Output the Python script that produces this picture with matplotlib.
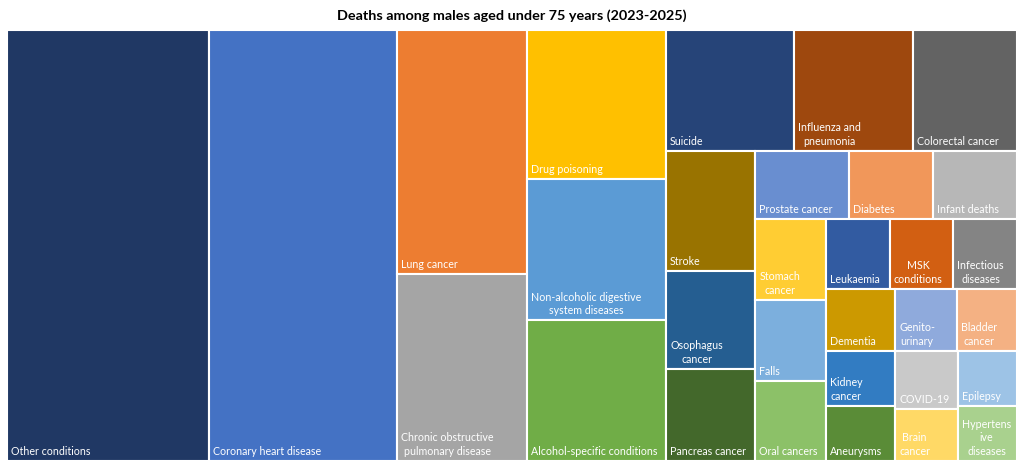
import matplotlib
matplotlib.use("Agg")
import matplotlib.pyplot as plt
from matplotlib.patches import Rectangle

# ==========================================
# Data (estimated from the reference treemap)
# ==========================================
labels = [
    "Other conditions", "Coronary heart disease", "Lung cancer",
    "Chronic obstructive\npulmonary disease", "Drug poisoning",
    "Non-alcoholic digestive\nsystem diseases", "Alcohol-specific conditions",
    "Suicide", "Influenza and\npneumonia", "Colorectal cancer",
    "Stroke", "Osophagus\ncancer", "Pancreas cancer",
    "Prostate cancer", "Diabetes", "Infant deaths",
    "Stomach\ncancer", "Falls", "Oral cancers",
    "Leukaemia", "MSK\nconditions", "Infectious\ndiseases",
    "Dementia", "Kidney\ncancer", "Aneurysms",
    "Genito-\nurinary", "Bladder\ncancer",
    "COVID-19", "Brain\ncancer", "Epilepsy", "Hypertens\nive\ndiseases",
]
deaths = [
    8710, 8100, 3170, 2430, 2070, 1965, 1955,
    1550, 1440, 1260, 1070, 872, 820,
    640, 572, 571, 570, 569, 568,
    445, 444, 443, 428, 380, 379,
    378, 372, 365, 327, 326, 325,
]
colors = [
    "#203864", "#4472C4", "#ED7D31", "#A5A5A5", "#FFC000", "#5B9BD5", "#70AD47",
    "#264478", "#9E480E", "#636363", "#997300", "#255E91", "#43682B",
    "#698ED0", "#F1975A", "#B7B7B7", "#FFCD33", "#7CAFDD", "#8CC168",
    "#325BA1", "#D25F12", "#848484", "#CC9900", "#327CC2", "#5A8C37",
    "#8FAADC", "#F4B183", "#C9C9C9", "#FFD966", "#9DC3E6", "#A9D18E",
]
# number of items in each strip of the treemap layout
strips = [1, 1, 2, 3, 3, 3, 3, 3, 3, 3, 2, 2, 1, 1]


def treemap(values, strips, x, y, w, h):
    """Strip layout: each strip is laid along the shorter side."""
    scale = w * h / sum(values)
    rects = []
    i = 0
    for n in strips:
        group = values[i:i + n]
        area = sum(group) * scale
        if w >= h:
            cw = area / h
            yy = y
            for v in group:
                hh = v * scale / cw
                rects.append((x, yy, cw, hh))
                yy += hh
            x += cw
            w -= cw
        else:
            rh = area / w
            xx = x
            for v in group:
                ww = v * scale / rh
                rects.append((xx, y, ww, rh))
                xx += ww
            y += rh
            h -= rh
        i += n
    return rects


# ==========================================
# Plot
# ==========================================
plt.rcParams["font.family"] = ["Lato", "DejaVu Sans"]

W, H = 1010, 431
fig = plt.figure(figsize=(10.24, 4.68), dpi=100)
ax = fig.add_axes([7 / 1024, 7 / 468, W / 1024, H / 468])
ax.set_xlim(0, W)
ax.set_ylim(H, 0)
ax.axis("off")

for (rx, ry, rw, rh), lab, col in zip(treemap(deaths, strips, 0, 0, W, H), labels, colors):
    ax.add_patch(Rectangle((rx, ry), rw, rh, facecolor=col, edgecolor="white", linewidth=1.5))
    ax.text(rx + 4, ry + rh - 4, lab, color="white", fontsize=7.7,
            ha="left", va="bottom", multialignment="center", linespacing=1.3)

fig.text(0.5, 1 - 16 / 468, "Deaths among males aged under 75 years (2023-2025)",
         ha="center", va="center", fontsize=10.4, fontweight="bold", color="#000000")

fig.savefig("out.png", dpi=100)
